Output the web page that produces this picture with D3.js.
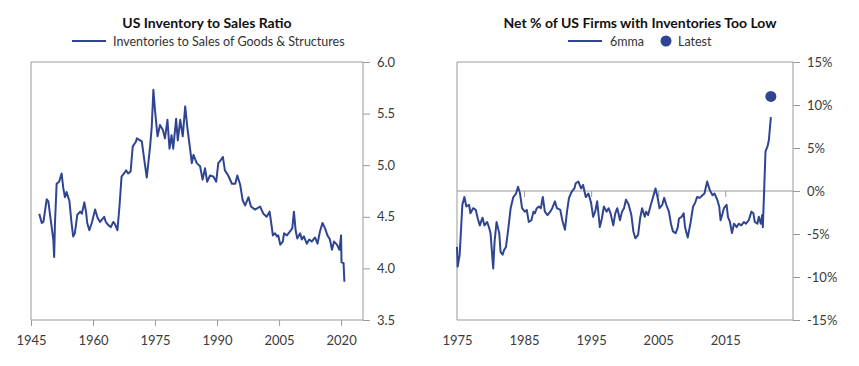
<!DOCTYPE html>
<html>
<head>
<meta charset="utf-8">
<script src="https://cdn.jsdelivr.net/npm/d3@7"></script>
<style>
  body { margin: 0; background: #fff; }
  svg { font-family: Lato, "Open Sans", sans-serif; }
  .title { font-weight: bold; font-size: 14px; fill: #111; }
  .legend { font-size: 12.5px; fill: #333; }
  .axis text { font-size: 13px; fill: #3a3a3a; font-family: Lato, "Open Sans", sans-serif; }
  .axis path, .axis line { stroke: #999; }
</style>
</head>
<body>
<svg id="chart"></svg>
<script>
// ---- data: left chart (inventory / sales ratio)
let ratioYears = [1947.0, 1947.6, 1948.0, 1948.8, 1949.2, 1949.6, 1950.0, 1950.4, 1950.6, 1950.8,
  1951.2, 1951.8, 1952.4, 1952.8, 1953.2, 1953.6, 1954.3, 1954.8, 1955.2, 1955.6,
  1956.2, 1956.9, 1957.3, 1957.9, 1958.3, 1958.6, 1959.1, 1959.7, 1960.5, 1961.1,
  1961.7, 1962.1, 1962.7, 1963.1, 1963.7, 1964.3, 1964.9, 1965.3, 1965.9, 1966.4,
  1966.9, 1967.5, 1968.0, 1968.5, 1969.1, 1969.6, 1970.4, 1970.6, 1971.8, 1972.3,
  1973.0, 1973.8, 1974.2, 1974.6, 1975.0, 1975.6, 1976.2, 1976.9, 1977.4, 1978.0,
  1978.5, 1979.0, 1979.4, 1980.1, 1980.5, 1981.1, 1981.7, 1982.3, 1982.8, 1983.5,
  1983.9, 1984.3, 1985.1, 1985.9, 1986.5, 1987.1, 1987.6, 1988.3, 1989.1, 1989.8,
  1990.3, 1990.9, 1991.4, 1991.9, 1992.7, 1993.6, 1994.4, 1994.9, 1995.6, 1996.2,
  1996.8, 1997.6, 1998.2, 1999.2, 2000.4, 2001.2, 2002.0, 2002.7, 2003.1, 2003.5,
  2004.0, 2004.5, 2004.8, 2005.3, 2005.9, 2006.2, 2006.9, 2007.7, 2008.2, 2008.6,
  2009.0, 2009.4, 2010.1, 2010.5, 2011.0, 2011.7, 2012.3, 2012.9, 2013.7, 2014.3,
  2014.9, 2015.5, 2016.1, 2016.7, 2017.3, 2017.8, 2018.3, 2019.0, 2019.6, 2020.0,
  2020.1, 2020.6, 2020.8];
let ratioValues = [4.53, 4.44, 4.45, 4.67, 4.65, 4.52, 4.40, 4.28, 4.11, 4.44,
  4.82, 4.84, 4.92, 4.78, 4.69, 4.74, 4.65, 4.44, 4.31, 4.34,
  4.52, 4.55, 4.53, 4.64, 4.55, 4.44, 4.37, 4.44, 4.57, 4.49,
  4.45, 4.47, 4.50, 4.45, 4.42, 4.40, 4.45, 4.43, 4.37, 4.60,
  4.89, 4.92, 4.95, 4.92, 4.94, 5.18, 5.23, 5.26, 5.23, 5.08,
  4.88, 5.18, 5.37, 5.73, 5.53, 5.28, 5.39, 5.34, 5.26, 5.44,
  5.16, 5.29, 5.16, 5.45, 5.24, 5.44, 5.28, 5.57, 5.37, 5.15,
  5.02, 5.10, 5.02, 4.99, 4.86, 4.97, 4.84, 4.90, 4.89, 4.84,
  5.02, 5.05, 5.08, 4.95, 4.90, 4.82, 4.82, 4.90, 4.81, 4.66,
  4.61, 4.69, 4.60, 4.57, 4.60, 4.53, 4.50, 4.55, 4.44, 4.32,
  4.34, 4.31, 4.32, 4.23, 4.26, 4.34, 4.32, 4.36, 4.39, 4.55,
  4.37, 4.29, 4.34, 4.28, 4.31, 4.24, 4.28, 4.26, 4.30, 4.24,
  4.36, 4.44, 4.39, 4.32, 4.28, 4.18, 4.26, 4.23, 4.18, 4.32,
  4.06, 4.05, 3.87];
let ratioYTicks = [3.5, 4.0, 4.5, 5.0, 5.5, 6.0];
let ratioXTicks = [1945, 1960, 1975, 1990, 2005, 2020];

// ---- data: right chart (net % of firms with inventories too low, 6mma)
let lowYears = [1975.0, 1975.1, 1975.4, 1975.8, 1976.1, 1976.4, 1976.8, 1977.0, 1977.4, 1977.8,
  1978.1, 1978.4, 1978.8, 1979.1, 1979.5, 1979.8, 1980.0, 1980.3, 1980.4, 1980.6,
  1980.9, 1981.3, 1981.5, 1981.8, 1982.0, 1982.3, 1982.6, 1983.0, 1983.4, 1983.8,
  1984.1, 1984.4, 1984.7, 1985.1, 1985.4, 1985.7, 1986.1, 1986.4, 1986.6, 1986.9,
  1987.2, 1987.5, 1987.8, 1988.1, 1988.5, 1988.9, 1989.2, 1989.6, 1989.9, 1990.4,
  1990.7, 1991.1, 1991.4, 1991.7, 1992.1, 1992.5, 1992.7, 1993.1, 1993.5, 1993.8,
  1994.2, 1994.6, 1995.0, 1995.3, 1995.6, 1995.9, 1996.3, 1996.6, 1996.9, 1997.3,
  1997.6, 1997.9, 1998.3, 1998.6, 1998.9, 1999.3, 1999.6, 1999.9, 2000.2, 2000.6,
  2001.0, 2001.3, 2001.6, 2002.0, 2002.3, 2002.6, 2003.0, 2003.2, 2003.5, 2003.9,
  2004.2, 2004.6, 2004.9, 2005.2, 2005.6, 2005.9, 2006.2, 2006.6, 2006.9, 2007.2,
  2007.6, 2007.9, 2008.1, 2008.5, 2008.8, 2009.0, 2009.4, 2009.8, 2010.2, 2010.5,
  2010.8, 2011.2, 2011.6, 2011.9, 2012.3, 2012.7, 2013.1, 2013.4, 2013.8, 2014.1,
  2014.3, 2014.6, 2014.8, 2015.2, 2015.4, 2015.7, 2016.0, 2016.3, 2016.7, 2017.0,
  2017.4, 2017.8, 2018.1, 2018.5, 2018.9, 2019.2, 2019.4, 2019.8, 2020.0, 2020.3,
  2020.5, 2020.6, 2020.8, 2021.0, 2021.3, 2021.5, 2021.8];
let lowValues = [-6.5, -8.8, -7.4, -1.6, -0.7, -1.8, -1.6, -2.6, -2.0, -2.2,
  -3.2, -4.0, -3.1, -4.0, -3.6, -4.3, -4.9, -8.0, -9.0, -5.9,
  -3.6, -4.9, -7.1, -7.4, -6.9, -6.5, -4.7, -2.0, -0.7, -0.3,
  0.5, -0.3, -2.0, -2.4, -2.2, -3.6, -3.4, -2.4, -2.6, -2.0,
  -1.8, -2.0, -0.7, -2.4, -2.8, -2.4, -2.0, -1.2, -2.0, -2.2,
  -3.4, -4.5, -2.4, -0.8, -0.1, 0.3, 0.9, 1.1, 0.3, 0.7,
  -0.7, -0.3, -1.4, -3.0, -2.4, -1.2, -4.2, -3.2, -1.8, -2.4,
  -2.0, -2.6, -4.0, -2.6, -2.0, -3.4, -2.4, -2.0, -1.0, -1.6,
  -2.8, -4.7, -5.5, -5.1, -3.2, -2.0, -3.0, -2.4, -2.8, -1.6,
  -0.8, 0.3, -0.7, -2.0, -1.6, -0.8, -1.6, -2.4, -3.8, -4.7,
  -4.9, -4.3, -3.2, -3.0, -2.6, -4.2, -5.4, -3.8, -1.8, -1.4,
  -0.7, -0.8, -0.5, -0.3, 1.1, 0.1, -0.5, -0.3, -1.0, -1.8,
  -3.4, -2.6, -2.0, -1.6, -3.0, -3.6, -4.9, -3.8, -4.2, -3.8,
  -4.0, -3.6, -3.8, -3.4, -2.4, -2.6, -3.6, -3.8, -3.0, -3.8,
  -2.8, -4.2, 0.1, 4.6, 5.2, 5.9, 8.6];
let latestYear = [2021.8];
let latestValue = [11.0];
let lowYTicks = [-15, -10, -5, 0, 5, 10, 15];
let lowXTicks = [1975, 1985, 1995, 2005, 2015];

let lineColor = "#2f4591";
let width = 859, height = 366;

let svg = d3.select("#chart")
    .attr("width", width)
    .attr("height", height);

// one panel: frame, axes, line
function drawPanel(opts) {
    let g = svg.append("g");
    let x = d3.scaleLinear().domain(opts.xDomain).range([opts.left, opts.right]);
    let y = d3.scaleLinear().domain(opts.yDomain).range([opts.bottom, opts.top]);

    // frame: left + top
    g.append("line")
        .attr("x1", opts.left).attr("x2", opts.left)
        .attr("y1", opts.top).attr("y2", opts.bottom)
        .attr("stroke", "#999");
    g.append("line")
        .attr("x1", opts.left).attr("x2", opts.right)
        .attr("y1", opts.top).attr("y2", opts.top)
        .attr("stroke", "#999");

    // right value axis
    g.append("g")
        .attr("class", "axis")
        .attr("transform", "translate(" + opts.right + ",0)")
        .call(d3.axisRight(y).tickValues(opts.yTicks).tickSize(7).tickPadding(7).tickFormat(opts.yFormat))
        .call(a => a.select(".domain").attr("d", "M0," + opts.top + "V" + opts.bottom));

    // bottom axis: labels
    g.append("g")
        .attr("class", "axis")
        .attr("transform", "translate(0," + opts.bottom + ")")
        .call(d3.axisBottom(x).tickValues(opts.xTicks).tickSize(opts.bottomTicks).tickPadding(opts.bottomTicks ? 10 : 16).tickFormat(d3.format("d")))
        .call(a => a.select(".domain").attr("d", "M" + opts.left + ",0H" + opts.right));

    // zero axis (right panel only)
    if (opts.zeroAxis) {
        g.append("g")
            .attr("class", "axis")
            .attr("transform", "translate(0," + y(0) + ")")
            .call(d3.axisBottom(x).tickValues(opts.xTicks.slice(1)).tickSize(6).tickFormat(""))
            .call(a => a.select(".domain").attr("d", "M" + opts.left + ",0H" + opts.right));
    }

    let pts = opts.xs.map((d, i) => [d, opts.ys[i]]);
    g.append("path")
        .datum(pts)
        .attr("fill", "none")
        .attr("stroke", lineColor)
        .attr("stroke-width", 2)
        .attr("stroke-linejoin", "round")
        .attr("d", d3.line().x(d => x(d[0])).y(d => y(d[1])));

    // title
    g.append("text")
        .attr("class", "title")
        .attr("x", opts.cx).attr("y", 28)
        .attr("text-anchor", "middle")
        .text(opts.title);

    return {g: g, x: x, y: y};
}

// ---- left panel
let left = drawPanel({
    left: 31, right: 363, top: 62, bottom: 320,
    xDomain: [1945, 2025.3], yDomain: [3.5, 6.0],
    xTicks: ratioXTicks, yTicks: ratioYTicks, yFormat: d3.format(".1f"),
    bottomTicks: 6, xs: ratioYears, ys: ratioValues,
    title: "US Inventory to Sales Ratio", cx: 207
});
left.g.append("line")
    .attr("x1", 72).attr("x2", 106).attr("y1", 41).attr("y2", 41)
    .attr("stroke", lineColor).attr("stroke-width", 2);
left.g.append("text")
    .attr("class", "legend")
    .attr("x", 113).attr("y", 46)
    .text("Inventories to Sales of Goods & Structures");

// ---- right panel
let right = drawPanel({
    left: 457, right: 793, top: 62, bottom: 320,
    xDomain: [1975, 2025.1], yDomain: [-15, 15],
    xTicks: lowXTicks, yTicks: lowYTicks, yFormat: d => d + "%",
    bottomTicks: 0, zeroAxis: true, xs: lowYears, ys: lowValues,
    title: "Net % of US Firms with Inventories Too Low", cx: 640
});
right.g.selectAll("circle.latest")
    .data(latestYear)
    .enter()
    .append("circle")
    .attr("class", "latest")
    .attr("cx", (d, i) => right.x(d))
    .attr("cy", (d, i) => right.y(latestValue[i]))
    .attr("r", 5.5)
    .attr("fill", lineColor);

right.g.append("line")
    .attr("x1", 568).attr("x2", 602).attr("y1", 41).attr("y2", 41)
    .attr("stroke", lineColor).attr("stroke-width", 2);
right.g.append("text")
    .attr("class", "legend")
    .attr("x", 610).attr("y", 46)
    .text("6mma");
right.g.append("circle")
    .attr("cx", 666).attr("cy", 41).attr("r", 5.5)
    .attr("fill", lineColor);
right.g.append("text")
    .attr("class", "legend")
    .attr("x", 678).attr("y", 46)
    .text("Latest");
</script>
</body>
</html>
